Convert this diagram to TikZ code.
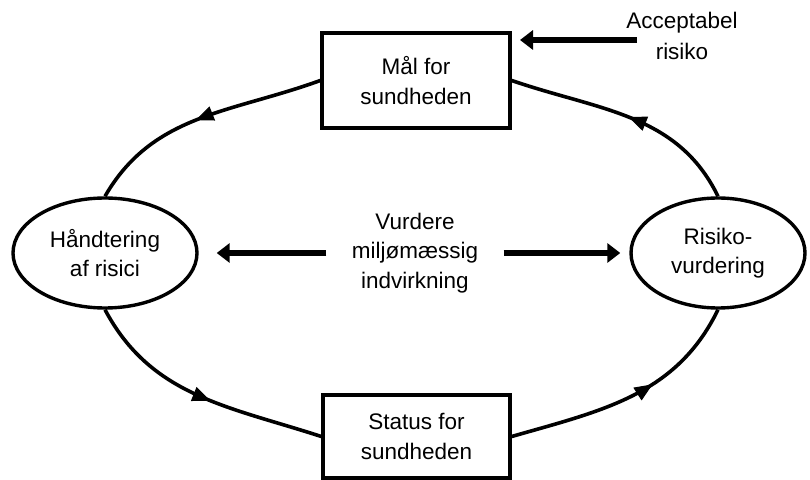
\documentclass[tikz,border=0pt]{standalone}
\usepackage{fontspec}
\setmainfont{Liberation Sans}
\usetikzlibrary{shapes.geometric,arrows.meta,decorations.markings}
\begin{document}
\begin{tikzpicture}[x=1pt,y=1pt,
  every node/.style={font=\fontsize{22.5}{29.5}\selectfont, align=center},
  boxnode/.style={draw, line width=3.4pt, minimum width=188pt, minimum height=95pt, inner sep=0pt},
  ellnode/.style={draw, ellipse, line width=3.4pt, inner sep=0pt},
  cyc/.style={line width=3.6pt, postaction={decorate}, decoration={markings,
     mark=at position #1 with {\arrow[line width=1pt]{Triangle[length=18pt,width=15pt]}}}},
  cyc/.default=0.5,
  bigarrow/.style={line width=6pt, -{Triangle[length=13pt,width=19pt]}}
]
\useasboundingbox (0,0) rectangle (810,479);

\node[boxnode] (mal) at (416,398.5) {Mål for\\sundheden};
\node[boxnode, minimum width=187pt, minimum height=83pt] (status) at (416.5,42.5) {Status for\\sundheden};
\node[ellnode, minimum width=184pt, minimum height=110pt] (hand) at (105,226) {Håndtering\\af risici};
\node[ellnode, minimum width=174pt, minimum height=110pt] (rv) at (718,226) {Risiko-\\vurdering};
\node (vurd) at (415,226) {Vurdere\\miljømæssig\\indvirkning};
\node[font=\fontsize{22.5}{31}\selectfont] (acc) at (682,443) {Acceptabel\\risiko};
\coordinate (accstart) at (637,439);
\coordinate (accend) at (520,439);

\draw[cyc=0.52] (mal.west) to[out=200,in=60] (hand.north);
\draw[cyc=0.55] (hand.south) to[out=-62,in=162] (status.west);
\draw[cyc=0.6] (status.east) to[out=16,in=-116] (rv.south);
\draw[cyc=0.5] (rv.north) to[out=116,in=-19] (mal.east);

\draw[bigarrow] (accstart) -- (accend);
\draw[bigarrow, shorten <=22pt, shorten >=18pt] (vurd.west) -- (hand.east);
\draw[bigarrow, shorten <=22pt, shorten >=9pt] (vurd.east) -- (rv.west);
\end{tikzpicture}
\end{document}
